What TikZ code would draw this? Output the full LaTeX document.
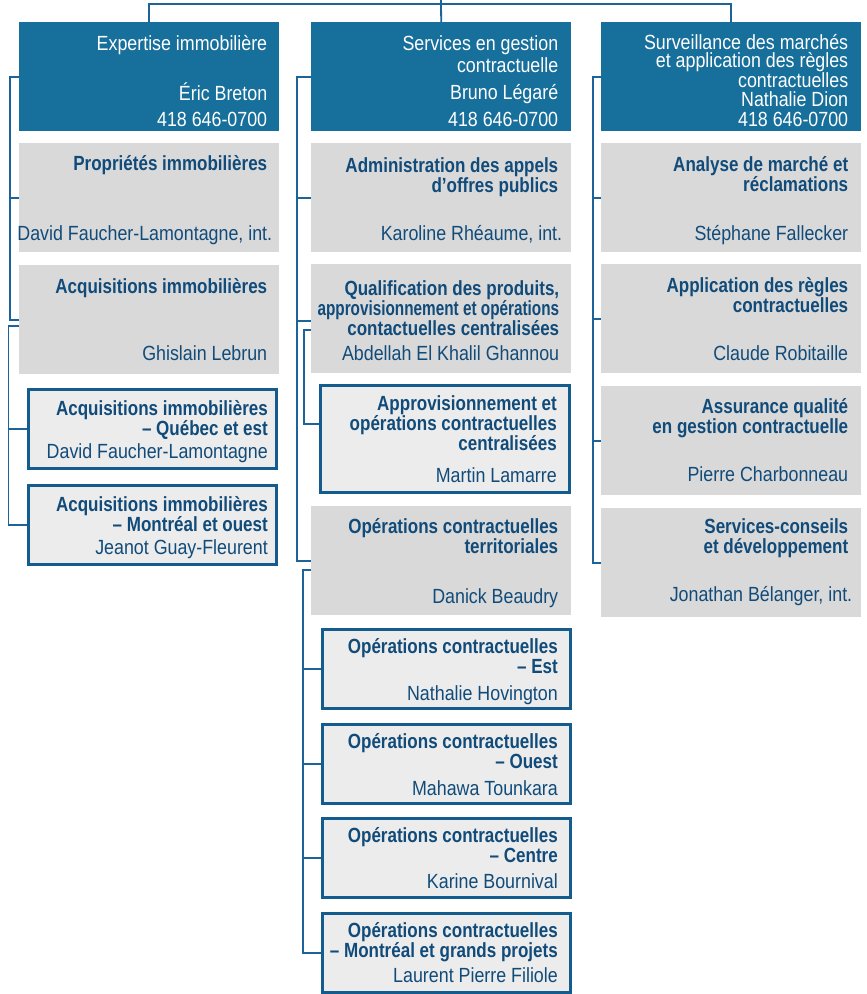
\documentclass[tikz,border=0pt]{standalone}
\usepackage{fontspec}
\setmainfont{Liberation Sans}[FakeStretch=0.87]
\newfontfamily\heavyfont{Liberation Sans}[FakeStretch=0.83]
\usepackage{tikz}
\usepackage{xcolor}
\definecolor{headblue}{RGB}{23,111,155}
\definecolor{boxgrey}{RGB}{217,217,217}
\definecolor{unitgrey}{RGB}{236,236,236}
\definecolor{lineblue}{RGB}{27,99,152}
\definecolor{edgeblue}{RGB}{20,92,142}
\definecolor{textblue}{RGB}{17,75,122}
\tikzstyle{headbox} = [rectangle, fill=headblue, inner sep=0pt, anchor=north west,
    minimum width=260pt, minimum height=109pt]
\tikzstyle{greybox} = [rectangle, fill=boxgrey, inner sep=0pt, anchor=north west,
    minimum width=260pt, minimum height=109pt]
\tikzstyle{unitbox} = [rectangle, draw=edgeblue, fill=unitgrey, line width=2.8pt,
    inner sep=0pt, anchor=north west, minimum width=248.2pt, minimum height=79pt]
\tikzstyle{headtitle} = [anchor=north east, align=right, inner sep=0pt, text=white,
    font=\fontsize{20.5}{22}\selectfont]
\tikzstyle{headname} = [anchor=base east, inner sep=0pt, text=white,
    font=\fontsize{20.5}{22}\selectfont]
\tikzstyle{unittitle} = [anchor=north east, align=right, inner sep=0pt, text=textblue,
    font=\heavyfont\bfseries\fontsize{20.5}{20}\selectfont]
\tikzstyle{unitname} = [anchor=base east, inner sep=0pt, text=textblue,
    font=\fontsize{20.5}{22}\selectfont]
\tikzstyle{link} = [draw=lineblue, line width=1.8pt]

\begin{document}
\begin{tikzpicture}[x=1pt, y=-1pt]
\useasboundingbox (0,0) rectangle (867,994);

% boxes
\node[headbox] (expert) at (19,22) {};
\node[greybox] (prop) at (19,143) {};
\node[greybox] (acq) at (19,265) {};
\node[unitbox] (acqqc) at (27,388) {};
\node[unitbox] (acqmtl) at (27,484) {};

\node[headbox] (gestion) at (311,22) {};
\node[greybox] (appels) at (311,143) {};
\node[greybox] (qualif) at (311,264) {};
\node[unitbox, minimum width=249.2pt, minimum height=107.2pt] (appro) at (319,384) {};
\node[greybox] (terr) at (311,506) {};
\node[unitbox] (est) at (321,628) {};
\node[unitbox] (ouest) at (321,723) {};
\node[unitbox] (centre) at (321,817) {};
\node[unitbox] (mtl) at (321,912) {};

\node[headbox] (surv) at (601,22) {};
\node[greybox] (analyse) at (601,143) {};
\node[greybox] (regles) at (601,264) {};
\node[greybox] (qualite) at (601,386) {};
\node[greybox] (conseil) at (601,508) {};

% texts
\node[headtitle] (expert-t) at ([shift={(-12pt,-13pt)}]expert.north east) {Expertise immobilière};
\node[headname] (expert-p) at ([shift={(-12pt,5pt)}]expert.south east) {418 646-0700};
\node[headname] (expert-n) at ([yshift=26pt]expert-p.base east) {Éric Breton};
\node[unittitle] (prop-t) at ([shift={(-12pt,-12.5pt)}]prop.north east) {Propriétés immobilières};
\node[unitname] (prop-n) at ([shift={(-7pt,11.5pt)}]prop.south east) {David Faucher-Lamontagne, int.};
\node[unittitle] (acq-t) at ([shift={(-12pt,-13pt)}]acq.north east) {Acquisitions immobilières};
\node[unitname] (acq-n) at ([shift={(-12pt,14pt)}]acq.south east) {Ghislain Lebrun};
\node[unittitle] (acqqc-t) at ([shift={(-10pt,-12pt)}]acqqc.north east) {Acquisitions immobilières\\– Québec et est};
\node[unitname] (acqqc-n) at ([shift={(-10pt,11pt)}]acqqc.south east) {David Faucher-Lamontagne};
\node[unittitle] (acqmtl-t) at ([shift={(-10pt,-12pt)}]acqmtl.north east) {Acquisitions immobilières\\– Montréal et ouest};
\node[unitname] (acqmtl-n) at ([shift={(-10pt,11pt)}]acqmtl.south east) {Jeanot Guay-Fleurent};

\node[headtitle] (gestion-t) at ([shift={(-13pt,-13pt)}]gestion.north east) {Services en gestion\\contractuelle};
\node[headname] (gestion-p) at ([shift={(-13pt,5pt)}]gestion.south east) {418 646-0700};
\node[headname] (gestion-n) at ([yshift=27pt]gestion-p.base east) {Bruno Légaré};
\node[unittitle] (appels-t) at ([shift={(-13pt,-14pt)}]appels.north east) {Administration des appels\\d’offres publics};
\node[unitname] (appels-n) at ([shift={(-9pt,12pt)}]appels.south east) {Karoline Rhéaume, int.};
\node[unittitle] (qualif-t) at ([shift={(-12pt,-16pt)}]qualif.north east) {Qualification des produits,\\\scalebox{0.9}[1]{approvisionnement et opérations}\\contactuelles centralisées};
\node[unitname] (qualif-n) at ([shift={(-12pt,13pt)}]qualif.south east) {Abdellah El Khalil Ghannou};
\node[unittitle] (appro-t) at ([shift={(-14pt,-11pt)}]appro.north east) {Approvisionnement et\\opérations contractuelles\\centralisées};
\node[unitname] (appro-n) at ([shift={(-14pt,12pt)}]appro.south east) {Martin Lamarre};
\node[unittitle] (terr-t) at ([shift={(-13pt,-12pt)}]terr.north east) {Opérations contractuelles\\territoriales};
\node[unitname] (terr-n) at ([shift={(-13pt,12pt)}]terr.south east) {Danick Beaudry};
\node[unittitle] (est-t) at ([shift={(-14pt,-10pt)}]est.north east) {Opérations contractuelles\\– Est};
\node[unitname] (est-n) at ([shift={(-14pt,9pt)}]est.south east) {Nathalie Hovington};
\node[unittitle] (ouest-t) at ([shift={(-14pt,-10pt)}]ouest.north east) {Opérations contractuelles\\– Ouest};
\node[unitname] (ouest-n) at ([shift={(-14pt,9pt)}]ouest.south east) {Mahawa Tounkara};
\node[unittitle] (centre-t) at ([shift={(-14pt,-10pt)}]centre.north east) {Opérations contractuelles\\– Centre};
\node[unitname] (centre-n) at ([shift={(-14pt,10pt)}]centre.south east) {Karine Bournival};
\node[unittitle] (mtl-t) at ([shift={(-14pt,-10pt)}]mtl.north east) {Opérations contractuelles\\– Montréal et grands projets};
\node[unitname] (mtl-n) at ([shift={(-14pt,11pt)}]mtl.south east) {Laurent Pierre Filiole};

\node[headtitle, font=\fontsize{20.5}{18.3}\selectfont] (surv-t) at ([shift={(-13pt,-12pt)}]surv.north east) {Surveillance des marchés\\et application des règles\\contractuelles};
\node[headname] (surv-p) at ([shift={(-13pt,5pt)}]surv.south east) {418 646-0700};
\node[headname] (surv-n) at ([yshift=20pt]surv-p.base east) {Nathalie Dion};
\node[unittitle] (analyse-t) at ([shift={(-13pt,-13pt)}]analyse.north east) {Analyse de marché et\\réclamations};
\node[unitname] (analyse-n) at ([shift={(-13pt,12pt)}]analyse.south east) {Stéphane Fallecker};
\node[unittitle] (regles-t) at ([shift={(-13pt,-13pt)}]regles.north east) {Application des règles\\contractuelles};
\node[unitname] (regles-n) at ([shift={(-13pt,13pt)}]regles.south east) {Claude Robitaille};
\node[unittitle] (qualite-t) at ([shift={(-13pt,-12pt)}]qualite.north east) {Assurance qualité\\en gestion contractuelle};
\node[unitname] (qualite-n) at ([shift={(-13pt,14pt)}]qualite.south east) {Pierre Charbonneau};
\node[unittitle] (conseil-t) at ([shift={(-13pt,-10pt)}]conseil.north east) {Services-conseils\\et développement};
\node[unitname] (conseil-n) at ([shift={(-9pt,16pt)}]conseil.south east) {Jonathan Bélanger, int.};

% connectors
\coordinate (dg) at (441,0);
\coordinate (bus) at (0,4);
\draw[link] (expert.north) -- (expert.north |- bus) -- (surv.north |- bus) -- (surv.north);
\draw[link] (dg) -- (gestion.north);

\coordinate (rail1) at (10,0);
\coordinate (rail1b) at (8.5,0);
\draw[link] (expert.west) -| (rail1 |- acq.west) -- (acq.west);
\draw[link] (prop.west) -- (prop.west -| rail1);
\draw[link] ([yshift=-6pt]acq.west) -| (rail1b |- acqmtl.west) -- (acqmtl.west);
\draw[link] (acqqc.west) -- (acqqc.west -| rail1b);

\coordinate (rail2) at (297,0);
\coordinate (rail2a) at (304,0);
\coordinate (rail2b) at (303,0);
\draw[link] (gestion.west) -| (rail2 |- terr.west) -- (terr.west);
\draw[link] (appels.west) -- (appels.west -| rail2);
\draw[link] ([yshift=-2pt]qualif.west) -- ([yshift=-2pt]qualif.west -| rail2);
\draw[link] ([yshift=-11pt]qualif.west) -| ([yshift=15pt]appro.west -| rail2a) -- ([yshift=15pt]appro.west);
\draw[link] ([yshift=-9pt]terr.west) -| (rail2b |- mtl.west) -- (mtl.west);
\draw[link] (est.west) -- (est.west -| rail2b);
\draw[link] (ouest.west) -- (ouest.west -| rail2b);
\draw[link] (centre.west) -- (centre.west -| rail2b);

\coordinate (rail3) at (593,0);
\draw[link] (surv.west) -| (rail3 |- conseil.west) -- (conseil.west);
\draw[link] (analyse.west) -- (analyse.west -| rail3);
\draw[link] (regles.west) -- (regles.west -| rail3);
\draw[link] (qualite.west) -- (qualite.west -| rail3);
\end{tikzpicture}
\end{document}
